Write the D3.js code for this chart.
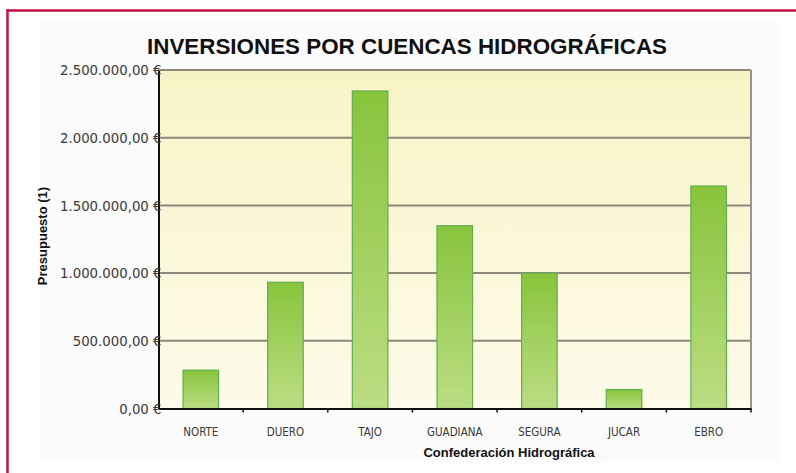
<!DOCTYPE html>
<html><head><meta charset="utf-8">
<script src="https://cdn.jsdelivr.net/npm/d3@7"></script>
<style>html,body{margin:0;padding:0;background:#fff;}svg{display:block;}</style>
</head><body>
<script>
const categories = ["NORTE","DUERO","TAJO","GUADIANA","SEGURA","JUCAR","EBRO"];
const values = [283000, 932000, 2345000, 1350000, 1000000, 140000, 1643000];
const yTicks = [0, 500000, 1000000, 1500000, 2000000, 2500000];
const title = "INVERSIONES POR CUENCAS HIDROGRÁFICAS";
const xTitle = "Confederación Hidrográfica";
const yTitle = "Presupuesto (1)";

const W = 796, H = 473;
const m = {left: 158.5, right: 796-751, top: 70, bottom: 473-408.5};
const svg = d3.select("body").append("svg").attr("width", W).attr("height", H);
const defs = svg.append("defs");
const bg = defs.append("linearGradient").attr("id","bg").attr("x1",0).attr("y1",0).attr("x2",0).attr("y2",1);
bg.append("stop").attr("offset","0%").attr("stop-color","#f8f3c6");
bg.append("stop").attr("offset","100%").attr("stop-color","#fdfbe9");
const bar = defs.append("linearGradient").attr("id","bar").attr("x1",0).attr("y1",0).attr("x2",0).attr("y2",1);
bar.append("stop").attr("offset","0%").attr("stop-color","#88c43c");
bar.append("stop").attr("offset","100%").attr("stop-color","#bcdd84");

// outer frame
svg.append("rect").attr("x",40).attr("y",22).attr("width",740).attr("height",440).attr("fill","#fbfbfb");
svg.append("line").attr("x1",7).attr("x2",W).attr("y1",10.5).attr("y2",10.5).attr("stroke","#c3103f").attr("stroke-width",2.5);
svg.append("line").attr("x1",7.5).attr("x2",7.5).attr("y1",9.3).attr("y2",H).attr("stroke","#c3103f").attr("stroke-width",2.5);

const x = d3.scaleBand().domain(categories).range([m.left, W-m.right]).paddingInner(0.58).paddingOuter(0.29);
const y = d3.scaleLinear().domain([0, 2500000]).range([H-m.bottom, m.top]);

svg.append("rect").attr("x",m.left).attr("y",m.top).attr("width",W-m.right-m.left).attr("height",H-m.bottom-m.top).attr("fill","url(#bg)");

// gridlines
svg.append("g").selectAll("line").data(yTicks.filter(d=>d>0)).join("line")
  .attr("x1",m.left).attr("x2",W-m.right).attr("y1",d=>y(d)).attr("y2",d=>y(d))
  .attr("stroke","#8d877c").attr("stroke-width",2);
// right border
svg.append("line").attr("x1",W-m.right).attr("x2",W-m.right).attr("y1",m.top).attr("y2",H-m.bottom)
  .attr("stroke","#9a958c").attr("stroke-width",2);

// bars
svg.append("g").selectAll("rect").data(categories).join("rect")
  .attr("x",d=>x(d)).attr("width",x.bandwidth())
  .attr("y",(d,i)=>y(values[i])).attr("height",(d,i)=>y(0)-y(values[i]))
  .attr("fill","url(#bar)").attr("stroke","#5fae52").attr("stroke-width",1.2);

const loc = d3.formatLocale({decimal:",", thousands:".", grouping:[3], currency:[""," €"]});
const fmt = loc.format("$,.2f");

// y axis
const yAxis = d3.axisLeft(y).tickValues(yTicks).tickSize(0).tickPadding(-3).tickFormat(fmt);
const gy = svg.append("g").attr("transform",`translate(${m.left},0)`).call(yAxis);
gy.select(".domain").attr("stroke","#111").attr("stroke-width",2);
gy.selectAll("text").attr("font-family","DejaVu Sans").attr("font-size","13.3px").attr("fill","#3a3a3a").attr("dy","0.35em");

// x axis
const xAxis = d3.axisBottom(x).tickSize(0).tickPadding(19);
const gx = svg.append("g").attr("transform",`translate(0,${H-m.bottom})`).call(xAxis);
gx.select(".domain").attr("stroke","#111").attr("stroke-width",2);
gx.selectAll("text").attr("font-family","DejaVu Sans Condensed").attr("font-size","11.5px").attr("fill","#3a3a3a");
// boundary ticks
const bounds = categories.slice(1).map(c => x(c) - x.step()*x.paddingInner()/2).concat([W-m.right]);
svg.append("g").selectAll("line").data(bounds).join("line")
  .attr("x1",d=>d).attr("x2",d=>d).attr("y1",H-m.bottom).attr("y2",H-m.bottom+4)
  .attr("stroke","#111").attr("stroke-width",1.5);

// titles
svg.append("text").attr("x",407).attr("y",53.5).attr("text-anchor","middle")
  .attr("font-family","Liberation Sans").attr("font-weight","bold").attr("font-size","22.4px").attr("fill","#111").text(title);
svg.append("text").attr("x",509).attr("y",456.5).attr("text-anchor","middle")
  .attr("font-family","Liberation Sans").attr("font-weight","bold").attr("font-size","13px").attr("fill","#111").text(xTitle);
svg.append("text").attr("transform","translate(47,236) rotate(-90)").attr("text-anchor","middle")
  .attr("font-family","Liberation Sans").attr("font-weight","bold").attr("font-size","13px").attr("fill","#111").text(yTitle);
</script>
</body></html>
